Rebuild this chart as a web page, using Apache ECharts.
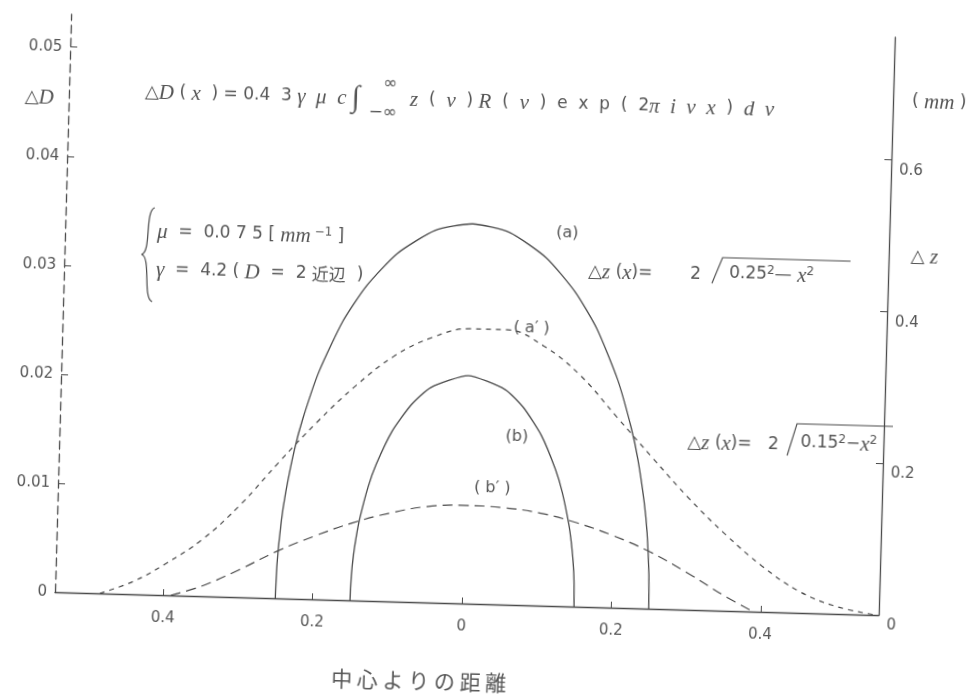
<!DOCTYPE html>
<html>
<head>
<meta charset="utf-8">
<script src="https://cdn.jsdelivr.net/npm/echarts@6/dist/echarts.min.js"></script>
<style>
  html, body { margin: 0; padding: 0; background: #ffffff; overflow: hidden; }
  #chart { width: 968px; height: 697px; transform: rotate(1.6deg); transform-origin: 484px 348px; }
</style>
</head>
<body>
<div id="chart"></div>
<script>
// Distance from the centre (mm) and tick positions
const xTicks = [-0.4, -0.2, 0, 0.2, 0.4];
const dTicks = [0, 0.01, 0.02, 0.03, 0.04, 0.05];
const zTicks = [0, 0.2, 0.4, 0.6];

// (a) profile height Δz (mm)
const aX = [-0.25, -0.249, -0.245, -0.24, -0.23, -0.22, -0.2, -0.17, -0.14, -0.1, -0.05, 0, 0.05, 0.1, 0.14, 0.17, 0.2, 0.22, 0.23, 0.24, 0.245, 0.249, 0.25];
const aZ = [0, 0.045, 0.1, 0.14, 0.196, 0.237, 0.3, 0.367, 0.414, 0.458, 0.49, 0.5, 0.49, 0.458, 0.414, 0.367, 0.3, 0.237, 0.196, 0.14, 0.1, 0.045, 0];

// (b) profile height Δz (mm)
const bX = [-0.15, -0.149, -0.147, -0.144, -0.14, -0.13, -0.12, -0.1, -0.075, -0.05, 0, 0.05, 0.075, 0.1, 0.12, 0.13, 0.14, 0.144, 0.147, 0.149, 0.15];
const bZ = [0, 0.035, 0.06, 0.084, 0.108, 0.15, 0.18, 0.224, 0.26, 0.283, 0.3, 0.283, 0.26, 0.224, 0.18, 0.15, 0.108, 0.084, 0.06, 0.035, 0];

// (a') density difference ΔD
const a2X = [-0.485, -0.44, -0.40, -0.35, -0.30, -0.25, -0.20, -0.15, -0.10, -0.05, 0, 0.05, 0.10, 0.15, 0.20, 0.25, 0.30, 0.35, 0.40, 0.45, 0.50, 0.555];
const a2D = [0, 0.0012, 0.0028, 0.0052, 0.0085, 0.0125, 0.0163, 0.0197, 0.0225, 0.0243, 0.0252, 0.0252, 0.0238, 0.0212, 0.0175, 0.0138, 0.0102, 0.0070, 0.0042, 0.0020, 0.0007, 0];

// (b') density difference ΔD
const b2X = [-0.39, -0.35, -0.30, -0.25, -0.20, -0.15, -0.10, -0.05, 0, 0.05, 0.10, 0.15, 0.20, 0.25, 0.30, 0.35, 0.39];
const b2D = [0, 0.0009, 0.0025, 0.0043, 0.0058, 0.0071, 0.0081, 0.0088, 0.0090, 0.0089, 0.0085, 0.0077, 0.0066, 0.0052, 0.0034, 0.0014, 0];

const zip = (xs, ys) => xs.map((x, i) => [x, ys[i]]);

const INK = '#4a4a4a';
const TXT = '#555555';
const SANS = '"DejaVu Sans", sans-serif';
const SERIF = '"Liberation Serif", serif';

const rich = {
  i: { fontFamily: SERIF, fontStyle: 'italic', fontSize: 21, color: TXT },
  n: { fontFamily: SANS, fontSize: 17, color: TXT },
  s: { fontFamily: SANS, fontSize: 18, color: TXT },
  int: { fontFamily: SERIF, fontStyle: 'italic', fontSize: 30, color: TXT },
  sup: { fontFamily: SANS, fontSize: 12, color: TXT, verticalAlign: 'top' },
  c: { fontFamily: '"Noto Sans CJK JP"', fontSize: 17, color: TXT }
};

function txt(x, y, text, extra) {
  return {
    type: 'text', x: x, y: y, silent: true,
    style: Object.assign({ text: text, rich: rich, fill: TXT, verticalAlign: 'middle',
      font: '16px ' + SANS }, extra || {})
  };
}

function curve(x1, y1, c1x, c1y, c2x, c2y, x2, y2) {
  return { type: 'bezierCurve', silent: true,
    shape: { x1: x1, y1: y1, cpx1: c1x, cpy1: c1y, cpx2: c2x, cpy2: c2y, x2: x2, y2: y2 },
    style: { fill: null, stroke: INK, lineWidth: 1.2 } };
}

function poly(points) {
  return { type: 'polyline', silent: true, shape: { points: points },
    style: { fill: null, stroke: INK, lineWidth: 1.1 } };
}

const chart = echarts.init(document.getElementById('chart'), null, { renderer: 'canvas' });

chart.setOption({
  animation: false,
  backgroundColor: '#ffffff',
  grid: { left: 62, right: 82, top: 26, bottom: 93, containLabel: false },
  xAxis: {
    type: 'value', min: -0.545, max: 0.558,
    axisLine: { onZero: false, lineStyle: { color: INK, width: 1.3 } },
    axisTick: { inside: true, length: 6, customValues: xTicks, lineStyle: { color: INK } },
    axisLabel: { customValues: xTicks, margin: 16, color: TXT, fontFamily: SANS, fontSize: 15,
      formatter: v => (v === 0 ? '0' : Math.abs(v).toFixed(1)) },
    splitLine: { show: false }
  },
  yAxis: [
    {
      type: 'value', min: 0, max: 0.053, position: 'left',
      axisLine: { show: true, onZero: false, lineStyle: { color: INK, width: 1.3, type: [8, 5] } },
      axisTick: { show: true, inside: true, length: 7, customValues: dTicks, lineStyle: { color: INK } },
      axisLabel: { customValues: dTicks, margin: 8, color: TXT, fontFamily: SANS, fontSize: 15,
        formatter: v => (v === 0 ? '0' : v.toFixed(2)) },
      splitLine: { show: false }
    },
    {
      type: 'value', min: 0, max: 0.761, position: 'right',
      axisLine: { show: true, onZero: false, lineStyle: { color: INK, width: 1.3 } },
      axisTick: { show: true, inside: true, length: 7, customValues: zTicks, lineStyle: { color: INK } },
      axisLabel: { customValues: zTicks, margin: 8, color: TXT, fontFamily: SANS, fontSize: 15,
        verticalAlign: 'top', padding: [3, 0, 0, 0],
        formatter: v => (v === 0 ? '0' : v.toFixed(1)) },
      splitLine: { show: false }
    }
  ],
  series: [
    { name: '(a)', type: 'line', yAxisIndex: 1, data: zip(aX, aZ), showSymbol: false, smooth: 0.2,
      lineStyle: { color: INK, width: 1.3 } },
    { name: '(b)', type: 'line', yAxisIndex: 1, data: zip(bX, bZ), showSymbol: false, smooth: 0.2,
      lineStyle: { color: INK, width: 1.3 } },
    { name: "(a')", type: 'line', yAxisIndex: 0, data: zip(a2X, a2D), showSymbol: false, smooth: 0.4,
      lineStyle: { color: INK, width: 1.2, type: [5, 5] } },
    { name: "(b')", type: 'line', yAxisIndex: 0, data: zip(b2X, b2D), showSymbol: false, smooth: 0.4,
      lineStyle: { color: INK, width: 1.2, type: [10, 6] } }
  ],
  graphic: [
    // axis names
    txt(18, 110, '{s|△}{i|D}'),
    txt(905, 90, '{n|( }{i|mm}{n| )}'),
    txt(908, 245, '{s|△}{n| }{i|z}'),
    // transfer formula
    txt(138, 102, '{s|△}{i|D}{n| ( }{i|x}{n|  ) = 0.4  3 }{i|γ  μ  c }{int|∫}'),
    txt(376, 87, '∞', { font: '17px ' + SANS }),
    txt(362, 116, '−∞', { font: '17px ' + SANS }),
    txt(403, 102, '{i|z}{n|  (  }{i|ν}{n|  ) }{i|R}{n|  (  }{i|ν}{n|  )  e  x  p  (  2}{i|π  i  ν  x}{n|  )  }{i|d  ν}'),
    // parameter block
    curve(151, 217, 141, 220, 149, 262, 139, 264),
    curve(139, 264, 149, 266, 141, 308, 151, 311),
    txt(154, 241, '{i|μ}{n|  =  0.0 7 5 [ }{i|mm}{sup| −1}{n| ]}'),
    txt(154, 279, '{i|γ}{n|  =  4.2 ( }{i|D}{n|  =  2 }{c|近辺}{n|  )}'),
    // curve labels
    txt(553, 231, '(a)', { font: '16px ' + SANS }),
    txt(513, 327, "( a′ )", { font: '16px ' + SANS }),
    txt(508, 436, '(b)', { font: '16px ' + SANS }),
    txt(478, 488, "( b′ )", { font: '16px ' + SANS }),
    // Δz(x) for profile (a)
    txt(586, 269, '{s|△}{i|z}{n| (}{i|x}{n|)=       2}'),
    poly([[710, 277], [720, 251], [848, 251]]),
    txt(727, 267, '{n|0.25}{sup|2}{n|— }{i|x}{sup|2}'),
    // Δz(x) for profile (b)
    txt(690, 437, '{s|△}{i|z}{n| (}{i|x}{n|)=   2}'),
    poly([[790, 447], [799, 415], [895, 415]]),
    txt(803, 434, '{n|0.15}{sup|2}{n|−}{i|x}{sup|2}'),
    // horizontal axis title
    txt(428, 682, '中 心 よ り の 距 離', { font: '21px "Noto Sans CJK JP"', align: 'center' })
  ]
});
</script>
</body>
</html>
